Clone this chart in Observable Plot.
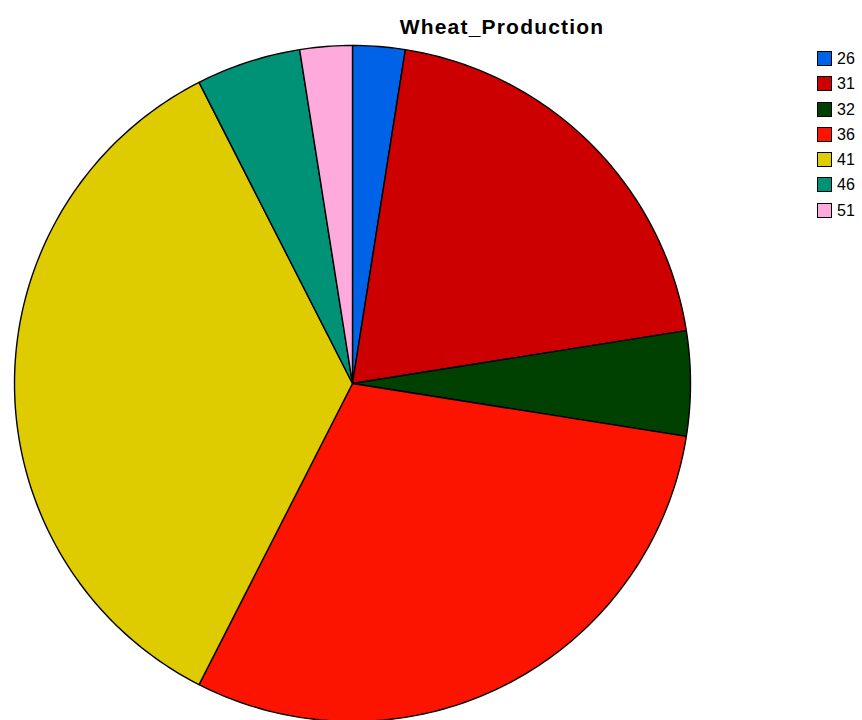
<!DOCTYPE html>
<html><head><meta charset="utf-8">
<script src="https://cdn.jsdelivr.net/npm/d3@7"></script>
<script src="https://cdn.jsdelivr.net/npm/@observablehq/plot@0.6"></script>
<style>
html,body{margin:0;padding:0;background:#fff;}
#wrap{position:relative;width:862px;height:720px;overflow:hidden;}
#title{position:absolute;left:0;width:1004px;top:15px;text-align:center;font:bold 21px "Liberation Sans",Arial,sans-serif;letter-spacing:1.2px;color:#000;}
#legend{position:absolute;left:817px;top:50px;font:16px "Liberation Sans",Arial,sans-serif;}
.row{height:25.3px;display:flex;align-items:flex-start;}
.sw{width:15px;height:15px;border:1px solid #000;box-sizing:border-box;margin-right:5px;margin-top:1px;}
.lab{line-height:17px;}
#chart{position:absolute;left:0;top:0;}
</style></head>
<body><div id="wrap"><div id="chart"></div><div id="title">Wheat_Production</div><div id="legend"></div></div>
<script>
const categories = ["26","31","32","36","41","46","51"];
const counts = [1, 8, 2, 12, 14, 2, 1];
const colors = ["#0062e6","#cc0000","#004000","#fc1400","#dfcc00","#009276","#ffaadd"];

const pie = d3.pie().sort(null).value(d => d.v)(categories.map((c,i)=>({c, v: counts[i], color: colors[i]})));
const marks = pie.map(s => {
  const n = Math.max(4, Math.ceil((s.endAngle - s.startAngle) * 60));
  const pts = [{x:0,y:0}];
  for (let k = 0; k <= n; k++) {
    const a = s.startAngle + (s.endAngle - s.startAngle) * k / n;
    pts.push({x: Math.sin(a), y: Math.cos(a)});
  }
  pts.push({x:0,y:0});
  return Plot.line(pts, {x:"x", y:"y", fill: s.data.color, stroke:"#000", strokeWidth:1.4, strokeLinejoin:"round"});
});

const chart = Plot.plot({
  width: 862, height: 720,
  margin: 0,
  x: {domain:[-1,1], range:[14,690], axis:null},
  y: {domain:[-1,1], range:[721,45], axis:null},
  marks
});
document.getElementById("chart").appendChild(chart);

const leg = document.getElementById("legend");
categories.forEach((c,i)=>{
  const r = document.createElement("div"); r.className="row";
  r.innerHTML = `<div class="sw" style="background:${colors[i]}"></div><span class="lab">${c}</span>`;
  leg.appendChild(r);
});
</script></body></html>
